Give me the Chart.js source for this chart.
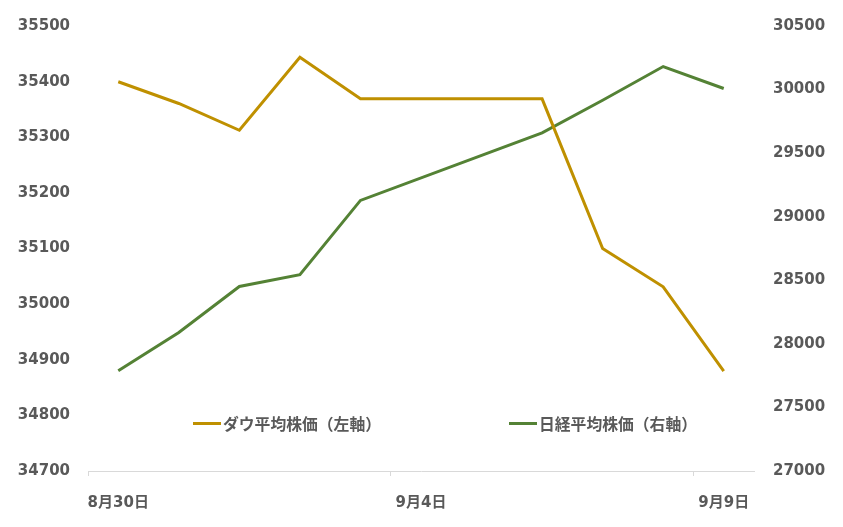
<!DOCTYPE html>
<html>
<head>
<meta charset="utf-8">
<script src="https://cdn.jsdelivr.net/npm/chart.js@4"></script>
<style>
  html, body { margin: 0; padding: 0; background: #fff; }
  #wrap { position: relative; width: 843px; height: 527px; }
  canvas { position: absolute; left: 0; top: 0; }
  .leg { position: absolute; top: 413px; height: 20px; display: flex; align-items: center;
         font-family: "Noto Sans CJK JP", "DejaVu Sans", sans-serif; font-weight: bold;
         font-size: 15.8px; color: #595959; white-space: nowrap; }
  .leg i { display: inline-block; width: 28px; height: 3px; margin-right: 2px; }
</style>
</head>
<body>
<div id="wrap">
  <canvas id="c" width="843" height="527"></canvas>
  <div class="leg" id="leg1" style="left:193px"><i style="background:#BF9000"></i><span>ダウ平均株価（左軸）</span></div>
  <div class="leg" id="leg2" style="left:509px"><i style="background:#548235"></i><span>日経平均株価（右軸）</span></div>
</div>
<script>
// Day offsets from 8月30日 (trading days shown in the chart)
const dayOffsets = [0, 1, 2, 3, 4, 7, 8, 9, 10];
const dowValues = [35399.84, 35360.73, 35312.53, 35443.82, 35369.09, 35369.09, 35100.00, 35031.07, 34879.38];
const nikkeiValues = [27789.29, 28089.54, 28451.02, 28543.51, 29128.11, 29659.89, 29916.14, 30181.21, 30008.19];
const seriesNames = ["ダウ平均株価（左軸）", "日経平均株価（右軸）"];
const xTickDays = [0, 5, 10];
const xTickLabels = ["8月30日", "9月4日", "9月9日"];
const xTickMarks = [-0.5, 4.5, 9.5];

const gray = '#595959';
const tickFont = { family: '"DejaVu Sans", "Noto Sans CJK JP", sans-serif', size: 15, weight: 'bold' };

new Chart(document.getElementById('c'), {
  type: 'line',
  data: {
    datasets: [
      { label: seriesNames[0], data: dayOffsets.map((d, i) => ({ x: d, y: dowValues[i] })),
        borderColor: '#BF9000', borderWidth: 3, pointRadius: 0, tension: 0, yAxisID: 'yL' },
      { label: seriesNames[1], data: dayOffsets.map((d, i) => ({ x: d, y: nikkeiValues[i] })),
        borderColor: '#548235', borderWidth: 3, pointRadius: 0, tension: 0, yAxisID: 'yR' }
    ]
  },
  options: {
    responsive: false,
    animation: false,
    devicePixelRatio: 1,
    layout: { padding: { top: 26, left: 0, right: 0, bottom: 0 } },
    plugins: { legend: { display: false }, tooltip: { enabled: false } },
    scales: {
      x: {
        type: 'linear', min: -0.5, max: 10.5,
        afterBuildTicks: (s) => {
          const vals = [...xTickMarks, ...xTickDays].sort((a, b) => a - b);
          s.ticks = vals.map(v => ({ value: v }));
        },
        afterFit: (s) => { s.height = 56; },
        ticks: {
          autoSkip: false, maxRotation: 0, padding: 18, color: gray, font: tickFont,
          callback: (v) => { const i = xTickDays.indexOf(v); return i >= 0 ? xTickLabels[i] : ''; }
        },
        grid: {
          drawOnChartArea: false, drawTicks: true, tickLength: 5,
          color: (ctx) => (ctx.tick && xTickMarks.includes(ctx.tick.value)) ? '#d9d9d9' : 'rgba(0,0,0,0)'
        },
        border: { display: true, color: '#d9d9d9', width: 1 }
      },
      yL: {
        position: 'left', min: 34700, max: 35500,
        afterFit: (s) => { s.width = 88; },
        ticks: { stepSize: 100, padding: 10, color: gray, font: tickFont, callback: (v) => String(v) },
        grid: { display: false },
        border: { display: false }
      },
      yR: {
        position: 'right', min: 27000, max: 30500,
        afterFit: (s) => { s.width = 89; },
        ticks: { stepSize: 500, padding: 11, color: gray, font: tickFont, callback: (v) => String(v) },
        grid: { display: false },
        border: { display: false }
      }
    }
  }
});
</script>
</body>
</html>
